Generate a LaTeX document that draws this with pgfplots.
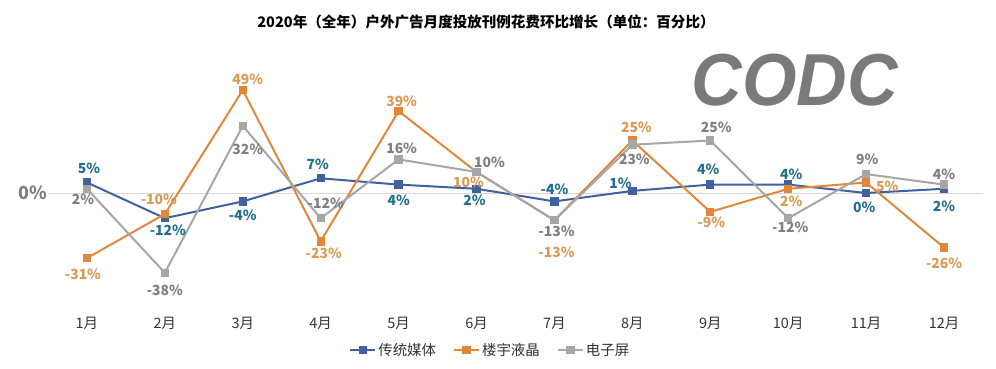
\documentclass[border=0pt]{standalone}
\usepackage{pgfplots}
\pgfplotsset{compat=1.18}
\usepackage{pgfplotstable}
\usepackage{fontspec}
\setmainfont{Noto Sans CJK SC}
\newfontfamily\logofont{Liberation Sans}
\definecolor{cblue}{HTML}{41619E}
\definecolor{cbluelab}{HTML}{22708C}
\definecolor{corange}{HTML}{E0873A}
\definecolor{corangelab}{HTML}{D99A55}
\definecolor{cgray}{HTML}{A6A6A6}
\definecolor{cgraylab}{HTML}{7F7F7F}
\definecolor{gridgray}{HTML}{D9D9D9}
\definecolor{labelgray}{HTML}{333333}
\definecolor{logogray}{HTML}{7A7A7A}

\pgfplotstableread{
x y dx dy
1 5 2 14
2 -12 3 -12
3 -4 0 -14
4 7 -3 14
5 4 0 -16
6 2 -2 -12
7 -4 0 12
8 1 -12 8
9 4 -2 15
10 4 3 10
11 0 -2 -14
12 2 0 -18
}\tradtable

\pgfplotstableread{
x y dx dy
1 -31 -4 -16
2 -10 -6 15
3 49 5 11
4 -23 3 -12
5 39 3 10
6 10 -8 -10
7 -13 2 -32
8 25 4 13
9 -9 1 -10
10 2 3 -13
11 5 21 -4
12 -26 0 -16
}\lcdtable

\pgfplotstableread{
x y dx dy
1 2 -4 -11
2 -38 0 -18
3 32 5 -24
4 -12 5 15
5 16 3 11
6 10 13 10
7 -13 2 -11
8 23 2 -15
9 25 6 13
10 -12 2 -9
11 9 1 15
12 4 0 10
}\screentable

\pgfplotsset{
  lab/.style={
    visualization depends on={\thisrow{dx} \as \dx},
    visualization depends on={\thisrow{dy} \as \dy},
    nodes near coords={\pgfmathprintnumber[fixed,precision=0,assume math mode=true]{\pgfplotspointmeta}\%},
    nodes near coords style={anchor=center, xshift=\dx bp, yshift=\dy bp, inner sep=0pt,
      text=#1, font=\bfseries\fontsize{14}{14}\selectfont},
  },
}

\begin{document}
\begin{tikzpicture}
\path[use as bounding box] (0,0) rectangle (996bp,369bp);
\begin{axis}[
  at={(48bp,71bp)}, anchor=south west,
  scale only axis, width=935bp, height=231bp,
  xmin=0.5, xmax=12.5, ymin=-50, ymax=60,
  axis line style={draw=none},
  major tick length=0pt,
  xtick={1,...,12},
  xticklabels={1月,2月,3月,4月,5月,6月,7月,8月,9月,10月,11月,12月},
  ytick={0}, yticklabels={0\%},
  ymajorgrids, grid style={color=gridgray, line width=0.8bp},
  xticklabel style={font=\fontsize{14.5}{14.5}\selectfont, text=labelgray, yshift=-16bp},
  yticklabel style={font=\bfseries\fontsize{18}{18}\selectfont, text=cgraylab, inner sep=1bp},
  clip=false,
  legend style={at={(0.473,-0.225)}, anchor=center, draw=none, fill=none,
    legend columns=3, font=\fontsize{14.5}{14.5}\selectfont, text=labelgray,
    /tikz/every even column/.append style={column sep=15bp}},
  legend image code/.code={\draw[mark repeat=2,mark phase=2] plot coordinates {(0bp,0bp)(12.5bp,0bp)(25bp,0bp)};},
]
\addplot[cblue, line width=2bp, mark=square*, mark size=3.2bp, mark options={solid}, lab=cbluelab]
  table[x=x,y=y]{\tradtable};
\addlegendentry{传统媒体}
\addplot[corange, line width=2bp, mark=square*, mark size=3.2bp, mark options={solid}, lab=corangelab]
  table[x=x,y=y]{\lcdtable};
\addlegendentry{楼宇液晶}
\addplot[cgray, line width=2bp, mark=square*, mark size=3.2bp, mark options={solid}, lab=cgraylab]
  table[x=x,y=y]{\screentable};
\addlegendentry{电子屏}
\end{axis}
\node[font=\bfseries\fontsize{14.6}{14.6}\selectfont, text=black] at (486bp,347bp)
  {2020年（全年）户外广告月度投放刊例花费环比增长（单位：百分比）};
\node[font=\logofont\bfseries\itshape\fontsize{74}{74}\selectfont, text=logogray, inner sep=0pt, xscale=0.95]
  at (795bp,289bp) {CODC};
\end{tikzpicture}
\end{document}
